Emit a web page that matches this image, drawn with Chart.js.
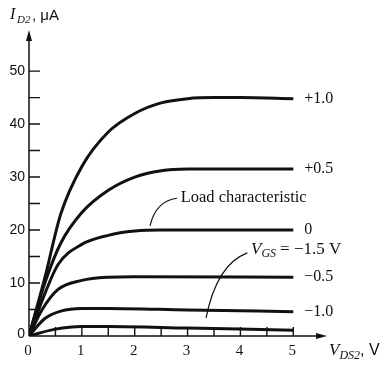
<!DOCTYPE html>
<html>
<head>
<meta charset="utf-8">
<script src="https://cdn.jsdelivr.net/npm/chart.js@4.4.1/dist/chart.umd.min.js"></script>
<style>
  html, body { margin: 0; padding: 0; background: #fff; }
  #wrap { width: 391px; height: 365px; }
</style>
</head>
<body>
<div id="wrap"><canvas id="c" width="391" height="365"></canvas></div>
<script>
// drain voltage V_DS2 (V) and drain current I_D2 (uA), one array per V_GS curve
const vP10 = [0, 0.3, 0.6, 1.0, 1.5, 2.0, 2.5, 3.0, 3.5, 4.0, 5.0];
const iP10 = [0, 11, 23, 32, 38.5, 42, 44, 44.8, 45, 45, 44.8];
const vP05 = [0, 0.3, 0.6, 1.0, 1.5, 2.0, 2.5, 3.0, 5.0];
const iP05 = [0, 10, 17.5, 23.3, 27.5, 30, 31.2, 31.5, 31.5];
const vZ = [0, 0.3, 0.55, 1.0, 1.5, 2.0, 2.5, 5.0];
const iZ = [0, 8, 13.5, 17.3, 19, 19.8, 20, 20];
const vM05 = [0, 0.25, 0.55, 1.0, 1.5, 2.0, 5.0];
const iM05 = [0, 5, 8.8, 10.5, 11.1, 11.2, 11.1];
const vM10 = [0, 0.3, 0.6, 1.0, 1.5, 3.0, 5.0];
const iM10 = [0, 3.3, 4.7, 5.2, 5.2, 4.9, 4.6];
const vM15 = [0, 0.5, 1.0, 1.5, 3.0, 5.0];
const iM15 = [0, 1.3, 1.8, 1.8, 1.5, 1.1];

const curveLabels = ['+1.0', '+0.5', '0', '\u22120.5', '\u22121.0'];

const xTicks = [0, 1, 2, 3, 4, 5];
const xMinor = [0.5, 1.5, 2.5, 3.5, 4.5];
const yTicks = [0, 10, 20, 30, 40, 50];
const yMinor = [5, 15, 25, 35, 45];

// leader lines (data units): start, control, end
const loadLeader = [[2.29, 20.8], [2.4, 25.5], [2.8, 26]];
const vgsLeader = [[4.13, 15.7], [3.55, 13.5], [3.35, 3.4]];

function pts(xs, ys) {
  return xs.map((x, i) => ({ x: x, y: ys[i] }));
}

const curves = [
  pts(vP10, iP10), pts(vP05, iP05), pts(vZ, iZ),
  pts(vM05, iM05), pts(vM10, iM10), pts(vM15, iM15)
];

const SERIF = '"Liberation Serif", "DejaVu Serif", serif';
const SANS = '"Liberation Sans", Arial, sans-serif';

const axesPlugin = {
  id: 'axesPlugin',
  afterDraw(chart) {
    const ctx = chart.ctx;
    const xs = chart.scales.x, ys = chart.scales.y;
    const x0 = xs.getPixelForValue(0), y0 = ys.getPixelForValue(0);
    ctx.save();
    ctx.strokeStyle = '#111';
    ctx.fillStyle = '#111';
    ctx.lineWidth = 1.5;

    // axes lines
    const yTop = chart.chartArea.top - 4;
    const xRight = chart.chartArea.right + 2;
    ctx.beginPath();
    ctx.moveTo(x0, y0); ctx.lineTo(x0, yTop + 8);
    ctx.moveTo(x0, y0); ctx.lineTo(xRight - 8, y0);
    ctx.stroke();
    // arrow heads
    ctx.beginPath();
    ctx.moveTo(x0, yTop); ctx.lineTo(x0 - 3, yTop + 11); ctx.lineTo(x0 + 3, yTop + 11); ctx.closePath();
    ctx.fill();
    ctx.beginPath();
    ctx.moveTo(xRight, y0); ctx.lineTo(xRight - 11, y0 - 3); ctx.lineTo(xRight - 11, y0 + 3); ctx.closePath();
    ctx.fill();

    // y ticks (inward)
    ctx.lineWidth = 1.4;
    ctx.beginPath();
    yTicks.concat(yMinor).forEach(v => {
      if (v === 0) return;
      const py = ys.getPixelForValue(v);
      ctx.moveTo(x0, py); ctx.lineTo(x0 + 11, py);
    });
    // x ticks (upward)
    xTicks.concat(xMinor).forEach(v => {
      if (v === 0) return;
      const px = xs.getPixelForValue(v);
      ctx.moveTo(px, y0); ctx.lineTo(px, y0 - 9);
    });
    ctx.stroke();

    // tick labels
    ctx.font = '14px ' + SANS;
    ctx.textAlign = 'right';
    ctx.textBaseline = 'middle';
    yTicks.forEach(v => {
      ctx.fillText(String(v), x0 - 4, ys.getPixelForValue(v) - (v === 0 ? 2 : 0));
    });
    ctx.font = '15px ' + SERIF;
    ctx.textAlign = 'center';
    ctx.textBaseline = 'top';
    xTicks.forEach(v => {
      ctx.fillText(String(v), xs.getPixelForValue(v) - 1, y0 + 8);
    });

    // curve end labels
    ctx.font = '16px ' + SERIF;
    ctx.textAlign = 'left';
    ctx.textBaseline = 'middle';
    curveLabels.forEach((lab, i) => {
      const c = curves[i];
      const last = c[c.length - 1];
      ctx.fillText(lab, xs.getPixelForValue(last.x) + 11, ys.getPixelForValue(last.y));
    });

    // leaders
    ctx.lineWidth = 1.2;
    [loadLeader, vgsLeader].forEach(L => {
      ctx.beginPath();
      ctx.moveTo(xs.getPixelForValue(L[0][0]), ys.getPixelForValue(L[0][1]));
      ctx.quadraticCurveTo(xs.getPixelForValue(L[1][0]), ys.getPixelForValue(L[1][1]),
        xs.getPixelForValue(L[2][0]), ys.getPixelForValue(L[2][1]));
      ctx.stroke();
    });

    // annotation texts
    ctx.font = '16.5px ' + SERIF;
    ctx.fillText('Load characteristic', xs.getPixelForValue(2.87), ys.getPixelForValue(26.2));

    let gx = xs.getPixelForValue(4.2), gy = ys.getPixelForValue(16.4);
    ctx.font = 'italic 17px ' + SERIF;
    ctx.fillText('V', gx, gy);
    gx += ctx.measureText('V').width;
    ctx.font = 'italic 12px ' + SERIF;
    ctx.fillText('GS', gx, gy + 5);
    gx += ctx.measureText('GS').width + 4;
    ctx.font = '17px ' + SERIF;
    ctx.fillText('= \u22121.5 V', gx, gy);

    // axis titles
    ctx.textBaseline = 'alphabetic';
    ctx.font = 'italic 16px ' + SERIF;
    ctx.fillText('I', 10, 19);
    ctx.font = 'italic 11px ' + SERIF;
    ctx.fillText('D2', 17, 23);
    ctx.font = '15px ' + SANS;
    ctx.fillText(', \u03bcA', 32, 20);

    let vx = xRight + 2, vy = y0 + 19;
    ctx.font = 'italic 17px ' + SERIF;
    ctx.fillText('V', vx, vy);
    vx += ctx.measureText('V').width;
    ctx.font = 'italic 12px ' + SERIF;
    ctx.fillText('DS2', vx, vy + 4);
    vx += ctx.measureText('DS2').width;
    ctx.font = '16px ' + SANS;
    ctx.fillText(', V', vx, vy);
    ctx.restore();
  }
};

new Chart(document.getElementById('c'), {
  type: 'scatter',
  data: {
    datasets: curves.map(c => ({
      data: c,
      showLine: true,
      borderColor: '#111',
      borderWidth: 3,
      pointRadius: 0,
      cubicInterpolationMode: 'monotone',
      fill: false
    }))
  },
  options: {
    responsive: false,
    animation: false,
    layout: { padding: { left: 29, right: 66, top: 34, bottom: 29 } },
    plugins: { legend: { display: false }, tooltip: { enabled: false } },
    scales: {
      x: { type: 'linear', min: 0, max: 5.6, display: false },
      y: { type: 'linear', min: 0, max: 57, display: false }
    }
  },
  plugins: [axesPlugin]
});
</script>
</body>
</html>
